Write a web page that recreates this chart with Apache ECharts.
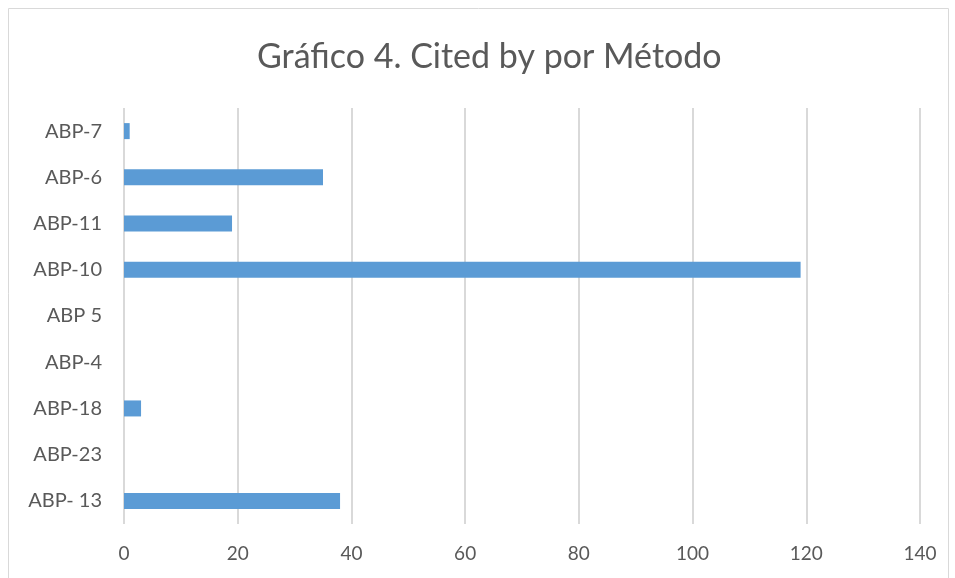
<!DOCTYPE html>
<html>
<head>
<meta charset="utf-8">
<script src="https://cdn.jsdelivr.net/npm/echarts@6/dist/echarts.min.js"></script>
<style>
  html, body { margin: 0; padding: 0; background: #fff; }
  #chart { width: 955px; height: 578px; }
</style>
</head>
<body>
<div id="chart"></div>
<script>
const titleText = "Gráfico 4. Cited by por Método";
const categories = ["ABP-7", "ABP-6", "ABP-11", "ABP-10", "ABP 5", "ABP-4", "ABP-18", "ABP-23", "ABP- 13"];
const citedBy = [1, 35, 19, 119, 0, 0, 3, 0, 38];
const xTicks = { min: 0, max: 140, interval: 20 };

const chart = echarts.init(document.getElementById("chart"));
const labelColor = "#595959";
const gridColor = "#d9d9d9";
const fontFamily = "Lato, 'Open Sans', sans-serif";

chart.setOption({
  animation: false,
  graphic: [
    {
      type: "rect",
      shape: { x: 8.5, y: 8.5, width: 940, height: 580 },
      style: { fill: "none", stroke: "#d9d9d9", lineWidth: 1 },
      silent: true,
    },
  ],
  title: {
    text: titleText,
    left: 252,
    top: 35,
    textStyle: { color: labelColor, fontSize: 34, fontWeight: "normal", fontFamily },
  },
  grid: { left: 124, right: 35, top: 108, bottom: 54 },
  xAxis: {
    type: "value",
    min: xTicks.min,
    max: xTicks.max,
    interval: xTicks.interval,
    axisLine: { show: false },
    axisTick: { show: false },
    axisLabel: { color: labelColor, fontSize: 19, margin: 20, fontFamily },
    splitLine: { lineStyle: { color: gridColor, width: 2 } },
  },
  yAxis: {
    type: "category",
    inverse: true,
    data: categories,
    axisLine: { show: false },
    axisTick: { show: false },
    axisLabel: { color: labelColor, fontSize: 20, margin: 22, fontFamily },
  },
  series: [
    {
      type: "bar",
      data: citedBy,
      barWidth: 16,
      itemStyle: { color: "#5b9bd5" },
    },
  ],
});
</script>
</body>
</html>
